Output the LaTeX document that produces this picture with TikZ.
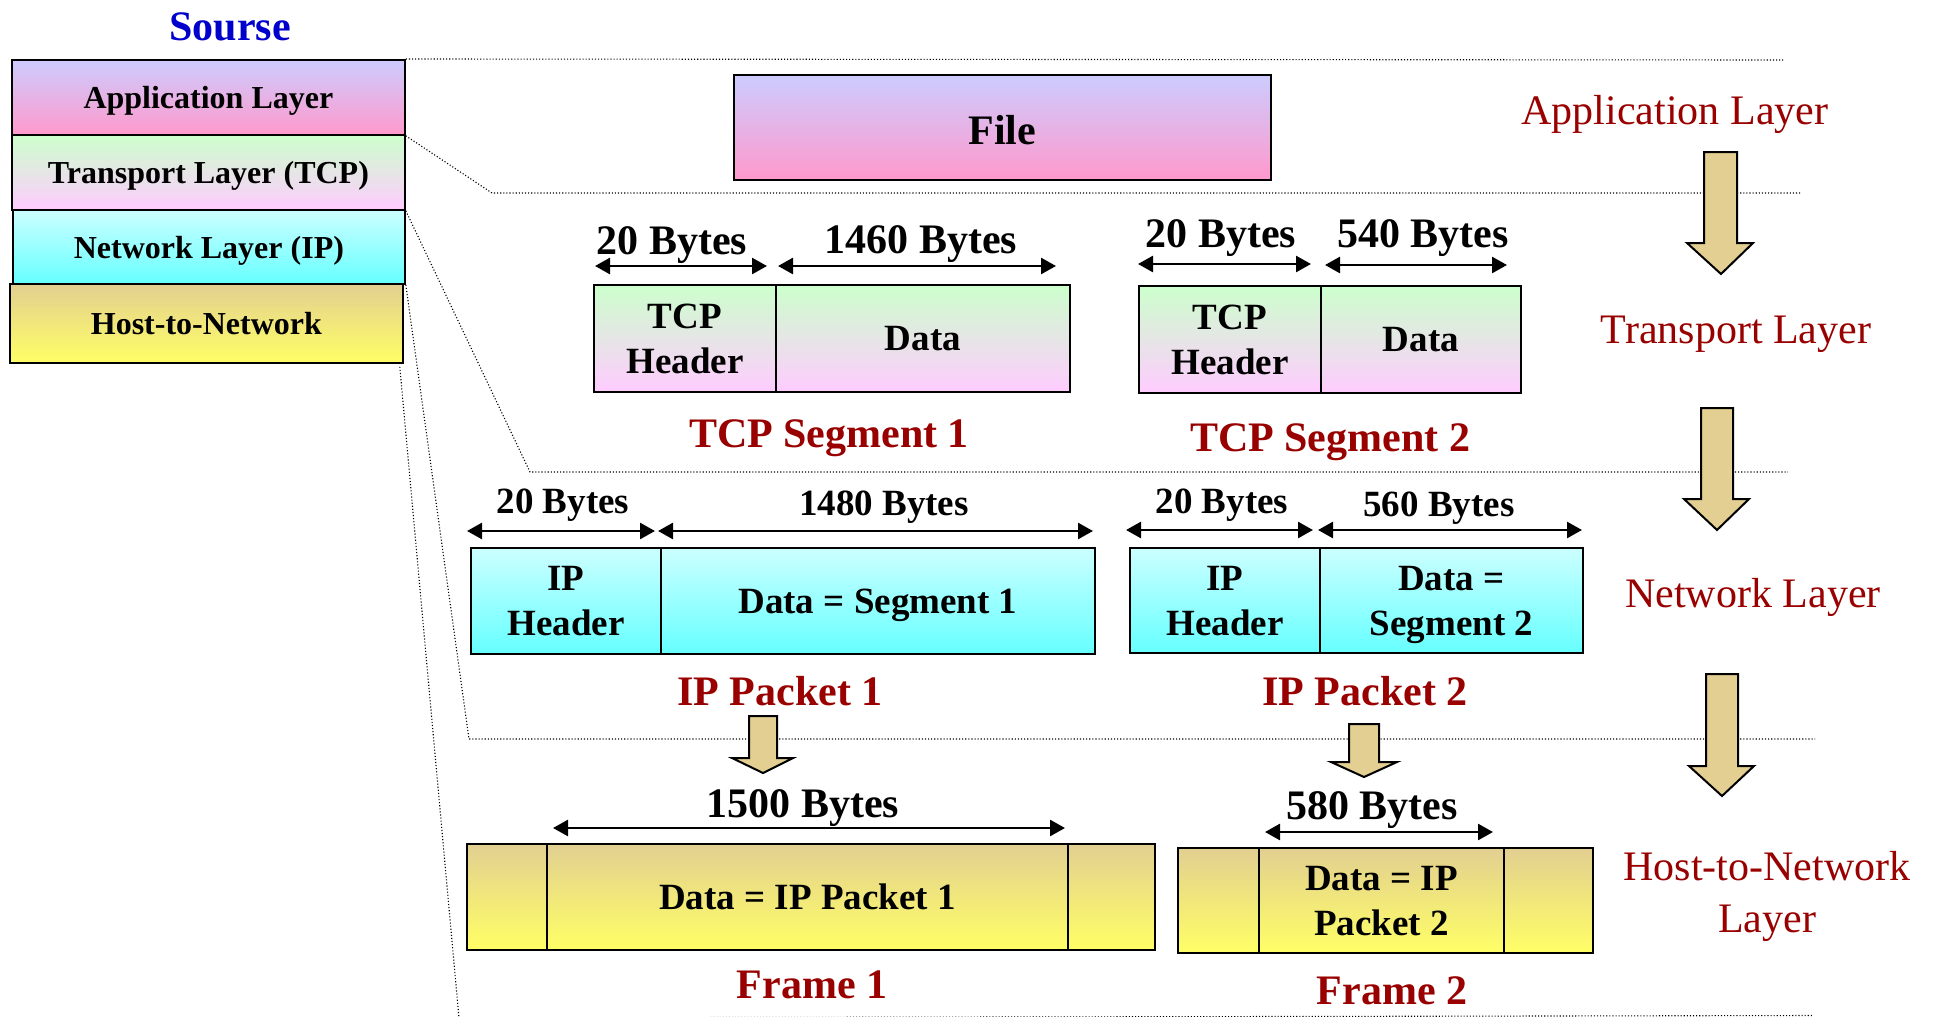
\documentclass[tikz,border=0pt]{standalone}
\usepackage{fontspec}
\setmainfont{Liberation Serif}
\usetikzlibrary{arrows.meta}
\definecolor{appT}{RGB}{204,204,255}
\definecolor{appB}{RGB}{255,153,204}
\definecolor{tcpT}{RGB}{204,255,204}
\definecolor{tcpB}{RGB}{255,204,255}
\definecolor{ipT}{RGB}{204,255,255}
\definecolor{ipB}{RGB}{102,255,255}
\definecolor{hostT}{RGB}{226,207,145}
\definecolor{hostB}{RGB}{255,255,102}
\definecolor{arrowtan}{RGB}{227,207,145}
\definecolor{capred}{RGB}{153,0,0}
\definecolor{srcblue}{RGB}{0,0,204}
\newcommand\fbig{\fontsize{21}{26}\selectfont}
\newcommand\fmid{\fontsize{18.5}{22.5}\selectfont}
\newcommand\fsmall{\fontsize{16}{19}\selectfont}
\begin{document}
\begin{tikzpicture}[x=0.5pt,y=-0.5pt,
  box/.style={draw=black, line width=0.9pt, inner sep=0pt, align=center, text depth=0pt, font=\bfseries\fmid},
  rect/.style n args={4}{at={(#1,#2)}, anchor=north west, minimum width={(#3-#1)*0.5pt}, minimum height={(#4-#2)*0.5pt}},
  appc/.style={top color=appT, bottom color=appB},
  tcpc/.style={top color=tcpT, bottom color=tcpB},
  ipc/.style={top color=ipT, bottom color=ipB},
  hostc/.style={top color=hostT, bottom color=hostB},
  laybox/.style={box, font=\bfseries\fsmall},
  dotline/.style={line width=0.55pt, dash pattern=on 0.55pt off 1pt},
  dimarrow/.style={line width=1.3pt, {Triangle[length=7.5pt,width=8pt]}-{Triangle[length=7.5pt,width=8pt]}},
  dimbig/.style={anchor=base, inner sep=0pt, font=\bfseries\fbig},
  dimmid/.style={anchor=base, inner sep=0pt, font=\bfseries\fmid},
  caption/.style={anchor=base, inner sep=0pt, text=capred, font=\bfseries\fbig},
  layerlbl/.style={inner sep=0pt, text=capred, font=\fbig, align=center},
  bigarrow/.style={fill=arrowtan, draw=black, line width=1pt, line join=miter}
]
\useasboundingbox (0,0) rectangle (1933,1017);

% ---- source stack ----
\node[dimbig, text=srcblue] (src) at (230,40) {Sourse};
\node[laybox, appc,  rect={11}{59}{404}{134}]  (appL)  {Application Layer};
\node[laybox, tcpc,  rect={11}{134}{404}{209}] (tcpL)  {Transport Layer (TCP)};
\node[laybox, ipc,   rect={12}{209}{404}{283}] (ipL)   {Network Layer (IP)};
\node[laybox, hostc, rect={9}{283}{402}{362}]  (hostL) {Host-to-Network};

% ---- dotted layer guides ----
\coordinate (g1e) at (1783,60);
\coordinate (g2a) at (492,193);  \coordinate (g2e) at (1801,193);
\coordinate (g3a) at (530,472);  \coordinate (g3e) at (1788,472);
\coordinate (g4a) at (469,739);  \coordinate (g4e) at (1815,739);
\coordinate (g5a) at (459,1018); \coordinate (g5e) at (1813,1015.5);
\draw[dotline] (appL.north east) -- (g1e);
\draw[dotline] (appL.south east) -- (g2a) -- (g2e);
\draw[dotline] (tcpL.south east) -- (g3a) -- (g3e);
\draw[dotline] (ipL.south east) -- (g4a) -- (g4e);
\draw[dotline] ([xshift=-2pt,yshift=-1.5pt]hostL.south east) -- (g5a) -- (g5e);

% ---- application layer ----
\node[box, appc, font=\bfseries\fbig, rect={733}{74}{1270}{179}, text height=17pt] (file) {File};

% ---- TCP segments ----
\node[box, tcpc, rect={593}{284}{775}{391}]   (th1) {TCP\\Header};
\node[box, tcpc, rect={775}{284}{1069}{391}]  (td1) {Data};
\node[box, tcpc, rect={1138}{285}{1320}{392}] (th2) {TCP\\Header};
\node[box, tcpc, rect={1320}{285}{1520}{392}] (td2) {Data};

\coordinate (a1l) at (595,266);  \coordinate (a1r) at (767,266);
\coordinate (a2l) at (778,266);  \coordinate (a2r) at (1056,266);
\coordinate (a3l) at (1138,264); \coordinate (a3r) at (1311,264);
\coordinate (a4l) at (1325,265); \coordinate (a4r) at (1507,265);
\draw[dimarrow] (a1l) -- (a1r);
\draw[dimarrow] (a2l) -- (a2r);
\draw[dimarrow] (a3l) -- (a3r);
\draw[dimarrow] (a4l) -- (a4r);
\node[dimbig] (b1) at (672,254)  {20 Bytes};
\node[dimbig] (b2) at (921,253)  {1460 Bytes};
\node[dimbig] (b3) at (1221,247) {20 Bytes};
\node[dimbig] (b4) at (1423,247) {540 Bytes};
\node[caption] (cs1) at (829,447)  {TCP Segment 1};
\node[caption] (cs2) at (1330,451) {TCP Segment 2};

% ---- IP packets ----
\node[box, ipc, rect={470}{547}{660}{653}]   (ih1) {IP\\Header};
\node[box, ipc, rect={660}{547}{1094}{653}]  (id1) {Data = Segment 1};
\node[box, ipc, rect={1129}{547}{1319}{652}] (ih2) {IP\\Header};
\node[box, ipc, rect={1319}{547}{1582}{652}] (id2) {Data =\\Segment 2};

\coordinate (p1l) at (467,531);  \coordinate (p1r) at (655,531);
\coordinate (p2l) at (658,531);  \coordinate (p2r) at (1093,531);
\coordinate (p3l) at (1126,530); \coordinate (p3r) at (1313,530);
\coordinate (p4l) at (1318,530); \coordinate (p4r) at (1582,530);
\draw[dimarrow] (p1l) -- (p1r);
\draw[dimarrow] (p2l) -- (p2r);
\draw[dimarrow] (p3l) -- (p3r);
\draw[dimarrow] (p4l) -- (p4r);
\node[dimmid] (q1) at (563,513)  {20 Bytes};
\node[dimmid] (q2) at (884,515)  {1480 Bytes};
\node[dimmid] (q3) at (1222,513) {20 Bytes};
\node[dimmid] (q4) at (1439,516) {560 Bytes};
\node[caption] (cp1) at (780,705)  {IP Packet 1};
\node[caption] (cp2) at (1365,705) {IP Packet 2};

% ---- frames ----
\node[box, hostc, rect={466}{843}{546}{949}]   (f1a) {};
\node[box, hostc, rect={546}{843}{1067}{949}]  (f1b) {Data = IP Packet 1};
\node[box, hostc, rect={1067}{843}{1154}{949}] (f1c) {};
\node[box, hostc, rect={1177}{847}{1258}{952}] (f2a) {};
\node[box, hostc, rect={1258}{847}{1503}{952}] (f2b) {Data = IP\\Packet 2};
\node[box, hostc, rect={1503}{847}{1592}{952}] (f2c) {};

\coordinate (r1l) at (553,828);  \coordinate (r1r) at (1065,828);
\coordinate (r2l) at (1265,832); \coordinate (r2r) at (1493,832);
\draw[dimarrow] (r1l) -- (r1r);
\draw[dimarrow] (r2l) -- (r2r);
\node[dimbig] (s1) at (803,817)  {1500 Bytes};
\node[dimbig] (s2) at (1372,819) {580 Bytes};
\node[caption] (cf1) at (812,998)  {Frame 1};
\node[caption] (cf2) at (1392,1004) {Frame 2};

% ---- small down arrows ----
\filldraw[bigarrow] (749,716) -- (777,716) -- (777,758) -- (793,758) -- (763,773) -- (732,758) -- (749,758) -- cycle;
\filldraw[bigarrow] (1349,724) -- (1379,724) -- (1379,762) -- (1397,762) -- (1364,777) -- (1331,762) -- (1349,762) -- cycle;

% ---- right-hand layer labels and arrows ----
\node[layerlbl, anchor=base] (rl1) at (1675,124) {Application Layer};
\node[layerlbl, anchor=base] (rl2) at (1736,343) {Transport Layer};
\node[layerlbl, anchor=base] (rl3) at (1753,607) {Network Layer};
\node[layerlbl] (rl4) at (1767,896) {Host-to-Network\\Layer};

\filldraw[bigarrow] (1704,152) -- (1737,152) -- (1737,243) -- (1753,243) -- (1721,274) -- (1687,243) -- (1704,243) -- cycle;
\filldraw[bigarrow] (1701,408) -- (1733,408) -- (1733,499) -- (1749,499) -- (1717,530) -- (1684,499) -- (1701,499) -- cycle;
\filldraw[bigarrow] (1706,674) -- (1738,674) -- (1738,766) -- (1754,766) -- (1722,796) -- (1689,766) -- (1706,766) -- cycle;
\end{tikzpicture}
\end{document}
